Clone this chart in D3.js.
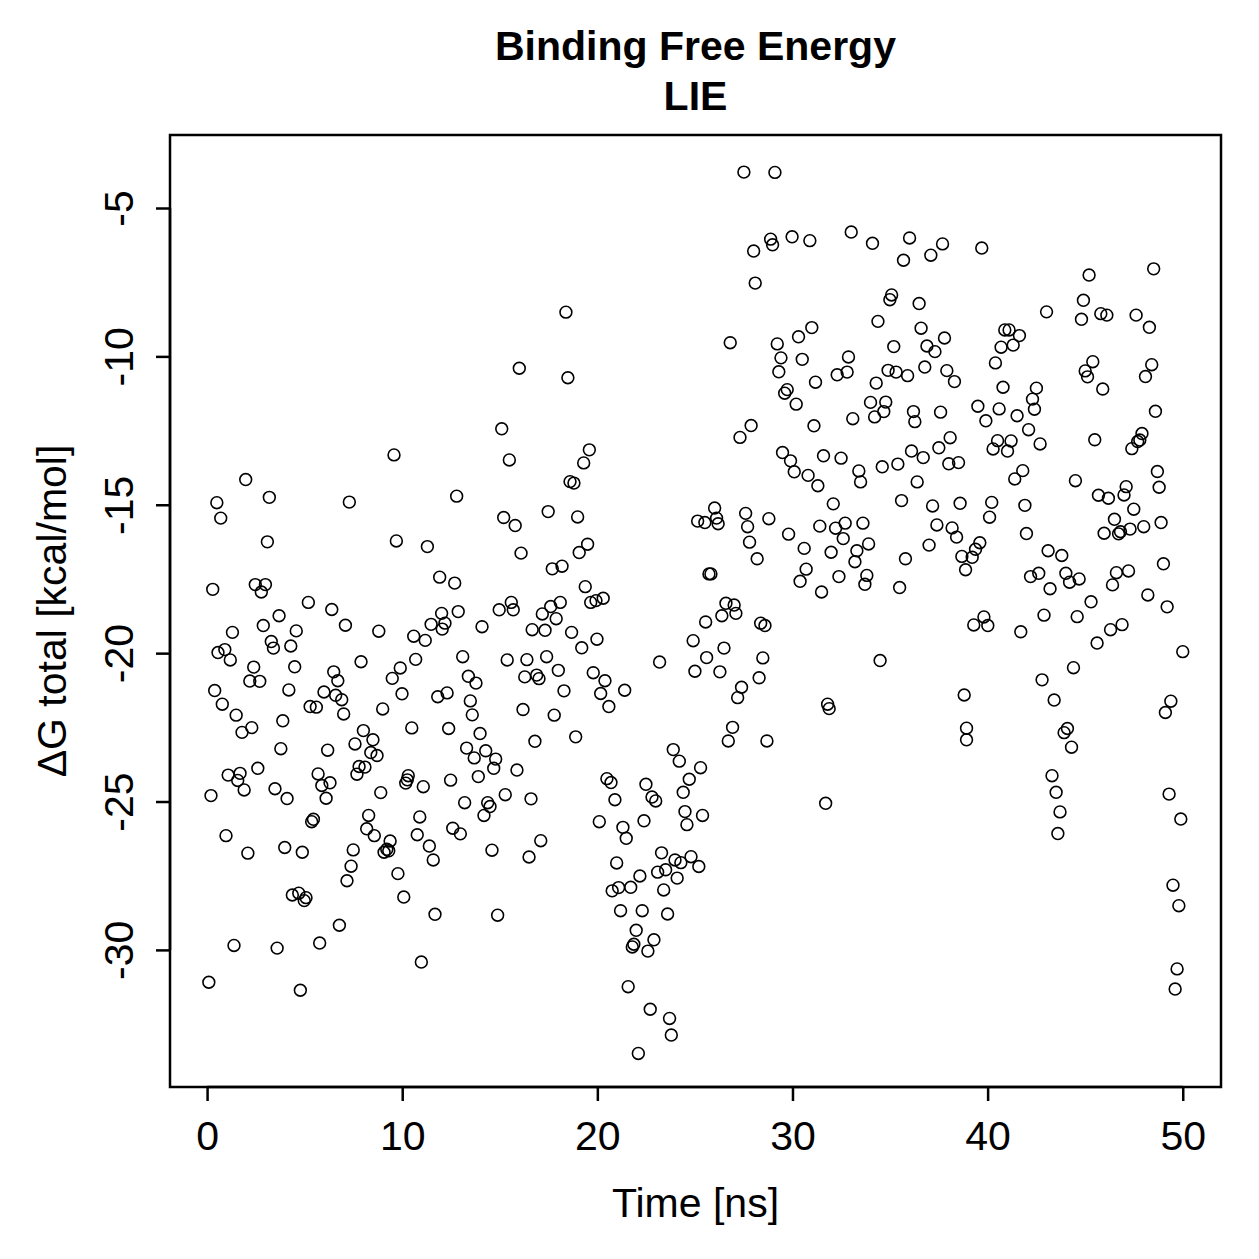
<!DOCTYPE html>
<html><head><meta charset="utf-8">
<script src="https://cdn.jsdelivr.net/npm/d3@7"></script>
<style>html,body{margin:0;padding:0;background:#fff}</style>
</head><body><svg id="chart" width="1259" height="1259"></svg>
<script>
const titleLines = ["Binding Free Energy", "LIE"];
const xLabel = "Time [ns]";
const yLabel = "\u0394G total [kcal/mol]";
const xTicks = [0, 10, 20, 30, 40, 50];
const yTicks = [-30, -25, -20, -15, -10, -5];

const timeNs = [
9.58,1.98,3.19,0.50,0.70,7.29,3.09,9.70,11.29,0.29,2.47,2.99,2.78,5.19,6.39,
3.69,1.30,2.88,4.57,7.09,8.80,10.59,11.18,11.48,0.56,0.91,1.19,3.29,3.40,4.29,2.39,4.49,7.89,9.90,10.69,2.19,2.70,0.39,4.19,6.49,6.70,5.99,6.59,6.90,7.00,5.28,5.60,9.49,9.99,9.00,0.78,1.49,2.29,1.79,3.88,8.01,8.50,7.58,8.39,8.71,10.49,3.78,6.18,7.79,8.09,7.68,2.60,1.08,1.69,1.57,1.90,0.20,3.48,4.10,5.69,6.30,5.88,6.10,8.90,10.31,10.26,10.18,11.08,5.45,5.36,8.28,10.90,8.18,
0.97,2.09,3.98,4.88,8.57,9.38,9.07,9.21,9.31,10.77,11.39,11.59,7.49,7.38,7.17,9.78,10.08,11.68,4.37,4.70,5.07,4.98,6.78,1.38,3.59,5.77,10.98,0.09,4.78,
18.39,16.00,18.49,15.10,15.49,19.59,19.30,18.60,18.80,12.79,15.20,15.79,17.48,18.99,16.09,19.50,19.07,17.69,18.19,19.38,11.92,12.69,
12.02,12.19,12.05,12.87,14.09,14.97,15.59,15.69,17.18,17.61,18.10,17.89,16.66,17.32,19.66,19.93,20.30,18.68,19.98,19.20,13.10,15.38,16.39,17.40,18.00,16.28,16.89,17.01,13.39,13.78,12.30,11.82,13.49,13.59,16.19,18.29,17.79,19.79,20.39,21.40,20.17,20.59,12.38,13.99,16.80,18.89,13.30,14.28,13.69,14.79,14.69,15.88,13.90,12.48,13.20,14.38,14.50,14.19,15.28,16.60,23.19,24.91,25.55,25.60,25.00,23.89,24.20,25.29,24.71,24.40,22.49,22.80,22.99,20.90,20.49,20.70,24.49,25.39,
12.59,12.98,14.60,16.50,17.10,14.89,20.10,21.31,21.48,22.39,24.59,20.99,23.29,23.98,24.28,24.80,25.20,23.09,23.50,24.09,22.18,21.71,21.09,20.76,23.40,21.19,22.30,23.60,21.99,22.90,21.87,21.79,22.59,21.58,22.71,23.70,23.79,22.10,
27.51,29.10,28.88,28.98,28.01,29.98,30.89,33.01,34.10,36.00,37.69,35.69,37.09,28.09,35.08,34.99,36.49,34.38,36.59,26.81,29.22,30.31,30.99,35.19,36.89,37.30,37.79,29.41,30.50,32.87,29.30,32.29,32.80,34.90,35.31,35.90,36.78,37.91,38.30,34.29,31.18,29.73,29.60,30.19,34.00,34.78,34.68,34.21,33.09,36.20,36.27,37.59,27.88,27.31,31.10,38.08,
29.49,29.90,30.09,30.80,31.30,31.59,32.49,33.40,33.49,34.60,35.40,36.10,36.70,37.50,38.01,38.51,36.39,32.09,35.59,37.18,38.59,26.01,25.14,25.51,26.11,26.19,27.60,27.70,28.79,27.80,28.19,29.80,31.40,32.21,32.70,33.61,32.60,33.90,33.30,33.20,31.98,30.60,30.70,30.39,32.38,31.49,33.81,33.71,35.49,35.79,37.40,38.18,38.41,37.00,38.68,38.87,25.72,25.82,26.59,27.01,27.10,26.38,28.37,28.59,26.49,28.48,26.28,28.29,27.39,27.19,34.49,31.80,31.88,38.80,
26.93,26.71,28.69,31.70,38.92,38.92,
39.70,45.20,48.51,43.02,44.91,44.81,45.80,46.11,47.61,48.29,40.88,41.10,41.63,40.69,41.31,40.40,45.39,45.00,45.12,48.41,48.09,45.90,40.79,42.50,42.30,42.40,39.50,40.59,39.91,41.51,42.10,48.60,40.51,41.20,40.28,41.02,42.69,45.49,47.91,47.80,47.69,47.39,41.80,41.39,44.50,48.70,
47.10,46.99,45.68,46.19,48.79,47.49,46.50,45.97,46.71,46.81,47.30,48.00,48.89,40.21,40.10,41.91,41.99,39.60,39.38,39.21,43.10,43.80,42.20,42.62,43.20,44.01,44.20,44.69,46.60,47.22,46.40,49.01,48.21,49.20,45.30,42.89,44.59,39.81,39.29,40.01,41.70,46.30,46.89,45.61,50.00,44.40,42.79,43.41,49.39,49.11,44.09,43.92,
44.30,43.30,43.51,43.71,43.60,49.30,49.90,49.50,49.80,49.71,49.61
];

const dGTotal = [
-13.32,-14.15,-14.75,-14.93,-15.45,-14.91,-16.25,-16.22,-16.41,-17.85,-17.69,-17.69,-17.94,-18.29,-18.53,
-18.74,-19.30,-19.07,-19.25,-19.06,-19.26,-19.43,-19.57,-19.03,-19.98,-19.88,-20.23,-19.61,-19.83,-19.76,-20.47,-20.46,-20.29,-20.50,-20.21,-20.94,-20.95,-21.26,-21.24,-20.63,-20.93,-21.31,-21.42,-21.57,-22.05,-21.80,-21.82,-20.85,-21.37,-21.88,-21.72,-22.09,-22.51,-22.67,-22.28,-22.61,-22.92,-23.06,-23.35,-23.45,-22.52,-23.22,-23.27,-23.82,-23.84,-24.08,-23.88,-24.11,-24.05,-24.29,-24.61,-24.80,-24.57,-24.90,-24.07,-24.37,-24.46,-24.89,-24.70,-24.13,-24.27,-24.38,-24.50,-25.60,-25.68,-25.47,-25.52,-25.92,
-26.15,-26.74,-26.55,-26.71,-26.15,-26.33,-26.71,-26.61,-26.66,-26.12,-26.50,-26.97,-26.63,-27.18,-27.67,-27.43,-28.22,-28.80,-28.15,-28.09,-28.24,-28.34,-29.17,-29.85,-29.94,-29.77,-30.41,-31.09,-31.36,
-8.51,-10.40,-10.72,-12.44,-13.49,-13.15,-13.59,-14.22,-14.27,-14.71,-15.43,-15.70,-15.23,-15.41,-16.63,-16.33,-16.61,-17.16,-17.07,-17.76,-17.44,-17.64,
-18.66,-18.99,-19.19,-18.60,-19.11,-18.54,-18.29,-18.54,-18.68,-18.43,-18.29,-18.84,-19.21,-19.23,-18.29,-18.23,-18.15,-19.30,-19.53,-19.82,-20.12,-20.23,-20.22,-20.12,-20.58,-20.80,-20.74,-20.86,-20.78,-21.01,-21.34,-21.47,-21.61,-22.08,-21.90,-21.27,-22.09,-20.66,-20.93,-21.25,-21.36,-21.80,-22.54,-22.71,-22.97,-22.82,-23.20,-23.29,-23.53,-23.57,-23.88,-23.94,-24.16,-24.28,-25.04,-25.04,-25.17,-25.47,-24.77,-24.91,-20.30,-19.58,-18.95,-20.15,-20.61,-23.25,-23.64,-23.86,-24.25,-24.69,-24.42,-24.85,-24.98,-24.94,-24.23,-24.36,-25.34,-25.47,
-25.90,-26.09,-26.64,-26.87,-26.32,-28.83,-25.68,-25.87,-26.24,-25.65,-25.78,-27.07,-26.73,-26.97,-27.06,-26.86,-27.19,-27.38,-27.30,-27.58,-27.51,-27.89,-27.90,-28.01,-27.98,-28.68,-28.68,-28.79,-29.34,-29.66,-29.81,-29.90,-30.04,-31.24,-32.00,-32.31,-32.87,-33.49,
-3.79,-3.80,-6.05,-6.24,-6.45,-5.97,-6.10,-5.81,-6.19,-6.01,-6.21,-6.76,-6.59,-7.53,-7.93,-8.09,-8.22,-8.82,-9.05,-9.54,-9.58,-9.34,-9.03,-9.67,-9.65,-9.84,-9.38,-10.05,-10.10,-10.02,-10.52,-10.62,-10.53,-10.47,-10.53,-10.65,-10.36,-10.48,-10.85,-10.90,-10.87,-11.12,-11.24,-11.61,-11.55,-11.54,-11.86,-12.04,-12.10,-11.86,-12.20,-11.88,-12.33,-12.73,-12.34,-12.74,
-13.24,-13.52,-13.89,-14.01,-14.36,-13.35,-13.43,-13.86,-14.23,-13.72,-13.63,-13.19,-13.41,-13.08,-13.62,-13.58,-14.23,-14.97,-14.86,-15.04,-14.95,-15.11,-15.55,-15.60,-15.45,-15.64,-15.29,-15.74,-15.47,-16.26,-16.82,-15.99,-15.72,-15.79,-15.62,-15.62,-16.14,-16.32,-16.55,-16.92,-16.60,-16.47,-17.17,-17.58,-17.42,-17.94,-17.38,-17.68,-17.79,-16.82,-15.68,-15.78,-16.09,-16.36,-16.74,-17.19,-17.33,-17.33,-18.32,-18.38,-18.66,-18.74,-18.99,-19.07,-19.83,-20.16,-20.63,-20.83,-21.15,-21.50,-20.25,-21.72,-21.87,-21.41,
-22.50,-22.96,-22.96,-25.06,-22.53,-22.92,
-6.35,-7.26,-7.05,-8.50,-8.11,-8.75,-8.56,-8.61,-8.61,-9.02,-9.11,-9.11,-9.30,-9.69,-9.62,-10.22,-10.18,-10.49,-10.69,-10.28,-10.68,-11.10,-11.04,-11.07,-11.44,-11.78,-11.68,-11.77,-12.17,-12.00,-12.47,-11.85,-12.84,-12.85,-13.12,-13.19,-12.95,-12.81,-12.60,-12.82,-12.87,-13.11,-13.85,-14.13,-14.19,-13.88,
-14.39,-14.67,-14.68,-14.78,-14.41,-15.15,-15.49,-15.96,-15.98,-15.91,-15.82,-15.74,-15.60,-14.92,-15.42,-15.02,-15.97,-16.28,-16.50,-16.77,-16.55,-16.71,-17.42,-17.31,-17.83,-17.31,-17.61,-17.50,-17.29,-17.23,-17.70,-16.99,-18.04,-18.44,-18.27,-18.72,-18.77,-18.78,-19.05,-19.07,-19.28,-19.21,-19.04,-19.66,-19.95,-20.49,-20.90,-21.58,-21.62,-22.00,-22.54,-22.68,
-23.17,-24.13,-24.69,-25.35,-26.08,-24.75,-25.59,-27.82,-28.51,-30.64,-31.32
];

const points = d3.range(Math.min(timeNs.length, dGTotal.length)).map(i => ({t: timeNs[i], g: dGTotal[i]}));

const FONT = "'Liberation Sans', Arial, Helvetica, sans-serif";
const svg = d3.select("#chart");
const box = {left: 170, right: 1221, top: 135, bottom: 1087};

const x = d3.scaleLinear().domain([-1.9, 51.96]).range([box.left, box.right]);
const y = d3.scaleLinear().domain([-34.62, -2.54]).range([box.bottom, box.top]);
const plainFmt = d => String(d);

// points
svg.append("g").selectAll("circle").data(points).join("circle")
  .attr("cx", d => x(d.t)).attr("cy", d => y(d.g)).attr("r", 5.9)
  .attr("fill", "none").attr("stroke", "#000").attr("stroke-width", 1.6);

// x axis
const xAxis = svg.append("g").attr("transform", `translate(0,${box.bottom})`)
  .call(d3.axisBottom(x).tickValues(xTicks).tickFormat(plainFmt).tickSize(14).tickSizeOuter(0));
xAxis.select(".domain").remove();
xAxis.selectAll(".tick line").attr("stroke", "#000").attr("stroke-width", 2.5);
xAxis.selectAll(".tick text").attr("font-family", FONT).attr("font-size", 41).attr("fill", "#000").attr("dy", null).attr("y", 63);
xAxis.append("line").attr("x1", x(xTicks[0])).attr("x2", x(xTicks[xTicks.length-1])).attr("stroke", "#000").attr("stroke-width", 2.5);

// y axis
const yAxis = svg.append("g").attr("transform", `translate(${box.left},0)`)
  .call(d3.axisLeft(y).tickValues(yTicks).tickFormat(plainFmt).tickSize(14).tickSizeOuter(0));
yAxis.select(".domain").remove();
yAxis.selectAll(".tick line").attr("stroke", "#000").attr("stroke-width", 2.5);
yAxis.selectAll(".tick text").attr("font-family", FONT).attr("font-size", 41).attr("fill", "#000")
  .attr("x", null).attr("dy", null).attr("text-anchor", "middle")
  .attr("transform", "translate(-37,0) rotate(-90)");
yAxis.append("line").attr("y1", y(yTicks[0])).attr("y2", y(yTicks[yTicks.length-1])).attr("stroke", "#000").attr("stroke-width", 2.5);

// box
svg.append("rect").attr("x", box.left).attr("y", box.top)
  .attr("width", box.right - box.left).attr("height", box.bottom - box.top)
  .attr("fill", "none").attr("stroke", "#000").attr("stroke-width", 2.5);

// titles
const cx = (box.left + box.right) / 2;
svg.append("g").selectAll("text").data(titleLines).join("text")
  .attr("x", cx).attr("y", (d, i) => 60 + i * 50)
  .attr("text-anchor", "middle").attr("font-family", FONT).attr("font-weight", "bold")
  .attr("font-size", 41).attr("fill", "#000").text(d => d);

svg.append("text").attr("x", cx).attr("y", 1217).attr("text-anchor", "middle")
  .attr("font-family", FONT).attr("font-size", 41).attr("fill", "#000").text(xLabel);

const cy = (box.top + box.bottom) / 2;
svg.append("text").attr("transform", `translate(66,${cy}) rotate(-90)`).attr("text-anchor", "middle")
  .attr("font-family", FONT).attr("font-size", 41).attr("fill", "#000").text(yLabel);
</script></body></html>
